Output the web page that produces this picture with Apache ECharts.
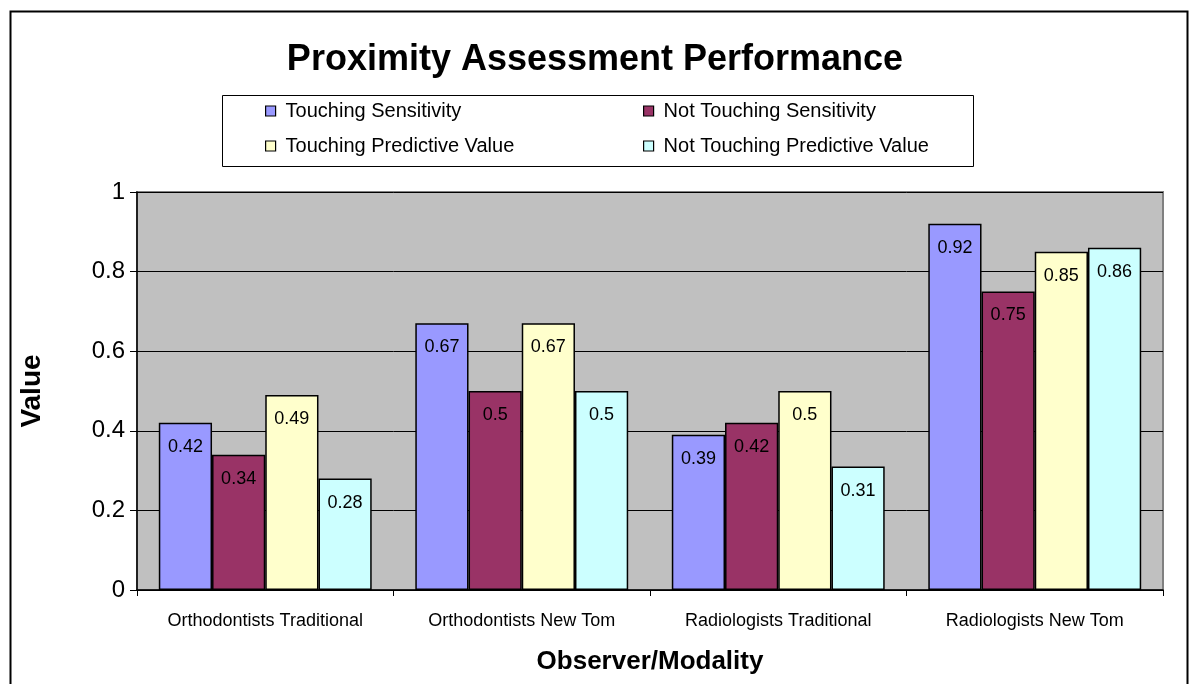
<!DOCTYPE html>
<html>
<head>
<meta charset="utf-8">
<script src="https://cdn.jsdelivr.net/npm/echarts@6/dist/echarts.min.js"></script>
<style>
  html, body { margin: 0; padding: 0; background: #fff; }
  #chart { width: 1190px; height: 684px; }
</style>
</head>
<body>
<div id="chart"></div>
<script>
const categories = ['Orthodontists Traditional', 'Orthodontists New Tom', 'Radiologists Traditional', 'Radiologists New Tom'];
const seriesNames = ['Touching Sensitivity', 'Not Touching Sensitivity', 'Touching Predictive Value', 'Not Touching Predictive Value'];
const touchingSens = [0.42, 0.67, 0.39, 0.92];
const notTouchingSens = [0.34, 0.5, 0.42, 0.75];
const touchingPV = [0.49, 0.67, 0.5, 0.85];
const notTouchingPV = [0.28, 0.5, 0.31, 0.86];
const yTicks = [0, 0.2, 0.4, 0.6, 0.8, 1];
const colors = ['#9999FF', '#993366', '#FFFFCC', '#CCFFFF'];

const font = '"Liberation Sans", Arial, sans-serif';
const chart = echarts.init(document.getElementById('chart'));

const values = [touchingSens, notTouchingSens, touchingPV, notTouchingPV];
const series = seriesNames.map((name, i) => ({
  name,
  type: 'bar',
  data: values[i],
  barGap: '0%',
  barCategoryGap: '17%',
  itemStyle: { color: colors[i], borderColor: '#000', borderWidth: 1.5 },
  label: {
    show: true,
    position: 'insideTop',
    distance: 15,
    color: '#000',
    fontFamily: font,
    fontSize: 18
  },
  emphasis: { disabled: true }
}));

// one legend per item so the two columns line up like the original
const legendPos = [[265, 96], [643, 96], [265, 131], [643, 131]];
const legends = seriesNames.map((name, i) => ({
  data: [name],
  left: legendPos[i][0],
  top: legendPos[i][1],
  padding: [5, 0, 5, 0],
  icon: 'rect',
  itemWidth: 10,
  itemHeight: 10,
  itemStyle: { borderColor: '#000', borderWidth: 1.2 },
  textStyle: { fontFamily: font, fontSize: 20, color: '#000', padding: [0, 0, 0, 5] },
  selectedMode: false
}));

chart.setOption({
  animation: false,
  backgroundColor: '#fff',
  title: {
    text: 'Proximity Assessment Performance',
    left: 'center',
    top: 42,
    padding: 0,
    textStyle: { fontFamily: font, fontSize: 36, fontWeight: 'bold', color: '#000' }
  },
  legend: legends,
  graphic: [
    { type: 'rect', shape: { x: 10.5, y: 11.5, width: 1177, height: 700 }, style: { fill: 'none', stroke: '#000', lineWidth: 2 }, z: 100 },
    { type: 'rect', shape: { x: 222.5, y: 95.5, width: 751, height: 71 }, style: { fill: 'none', stroke: '#000', lineWidth: 1 }, z: 100 }
  ],
  grid: {
    left: 137, right: 27, top: 192, bottom: 94,
    outerBoundsMode: 'none',
    containLabel: false,
    show: true, backgroundColor: '#C0C0C0', borderColor: '#808080', borderWidth: 2
  },
  xAxis: {
    type: 'category',
    data: categories,
    name: 'Observer/Modality',
    nameLocation: 'middle',
    nameGap: 59,
    nameTextStyle: { fontFamily: font, fontSize: 26, fontWeight: 'bold', color: '#000' },
    axisLine: { lineStyle: { color: '#000', width: 1.5 } },
    axisTick: { show: true, length: 6, lineStyle: { color: '#000' } },
    axisLabel: { fontFamily: font, fontSize: 18, color: '#000', margin: 22, interval: 0 }
  },
  yAxis: {
    type: 'value',
    min: yTicks[0],
    max: yTicks[yTicks.length - 1],
    interval: 0.2,
    name: 'Value',
    nameLocation: 'middle',
    nameGap: 91,
    nameTextStyle: { fontFamily: font, fontSize: 28, fontWeight: 'bold', color: '#000' },
    axisLine: { show: true, lineStyle: { color: '#000', width: 1.5 } },
    axisTick: { show: true, length: 7, lineStyle: { color: '#000' } },
    axisLabel: { fontFamily: font, fontSize: 24, color: '#000', margin: 12 },
    splitLine: { lineStyle: { color: '#000', width: 1 } }
  },
  series
});
</script>
</body>
</html>
